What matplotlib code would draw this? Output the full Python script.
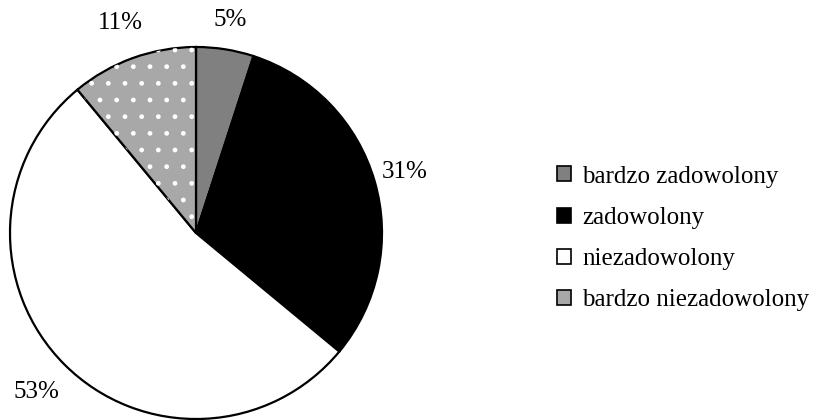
import numpy as np
import matplotlib.pyplot as plt
from matplotlib.patches import Wedge

plt.rcParams['font.family'] = ['Liberation Serif', 'DejaVu Serif']

labels = ['bardzo zadowolony', 'zadowolony', 'niezadowolony', 'bardzo niezadowolony']
values = [5, 31, 53, 11]
colors = ['#808080', '#000000', '#ffffff', '#a8a8a8']
# how far out each percent label sits (in radii)
lab_dist = [1.16, 1.17, 1.21, 1.2]

fig = plt.figure(figsize=(8.18, 4.2), dpi=100)
ax = fig.add_axes([0, 0, 1, 1])

wedges, texts, pcts = ax.pie(values, colors=colors, startangle=90, counterclock=False,
                             center=(196, 187), radius=186, frame=True,
                             autopct='%.0f%%', pctdistance=1.18,
                             wedgeprops=dict(edgecolor='black', linewidth=1.6),
                             textprops=dict(fontsize=18, color='black'))
ax.set_xlim(0, 818)
ax.set_ylim(0, 420)
ax.set_aspect('equal')
ax.axis('off')

for w, t, d in zip(wedges, pcts, lab_dist):
    a = np.deg2rad((w.theta1 + w.theta2) / 2)
    t.set_position((w.center[0] + d * w.r * np.cos(a), w.center[1] + d * w.r * np.sin(a)))

# white dots over the last slice
w = wedges[3]
dots = Wedge(w.center, w.r, w.theta1, w.theta2, facecolor='none',
             edgecolor='white', linewidth=0, hatch='.')
ax.add_patch(dots)

leg = ax.legend(wedges, labels, loc='center left', bbox_to_anchor=(0.681, 0.432),
                frameon=False, fontsize=18, handlelength=0.55, handleheight=0.55,
                handletextpad=0.45, labelspacing=0.77, borderpad=0, borderaxespad=0)
for h in leg.legend_handles:
    h.set_hatch(None)
    h.set_linewidth(1.2)

fig.savefig('out.png', dpi=100)
